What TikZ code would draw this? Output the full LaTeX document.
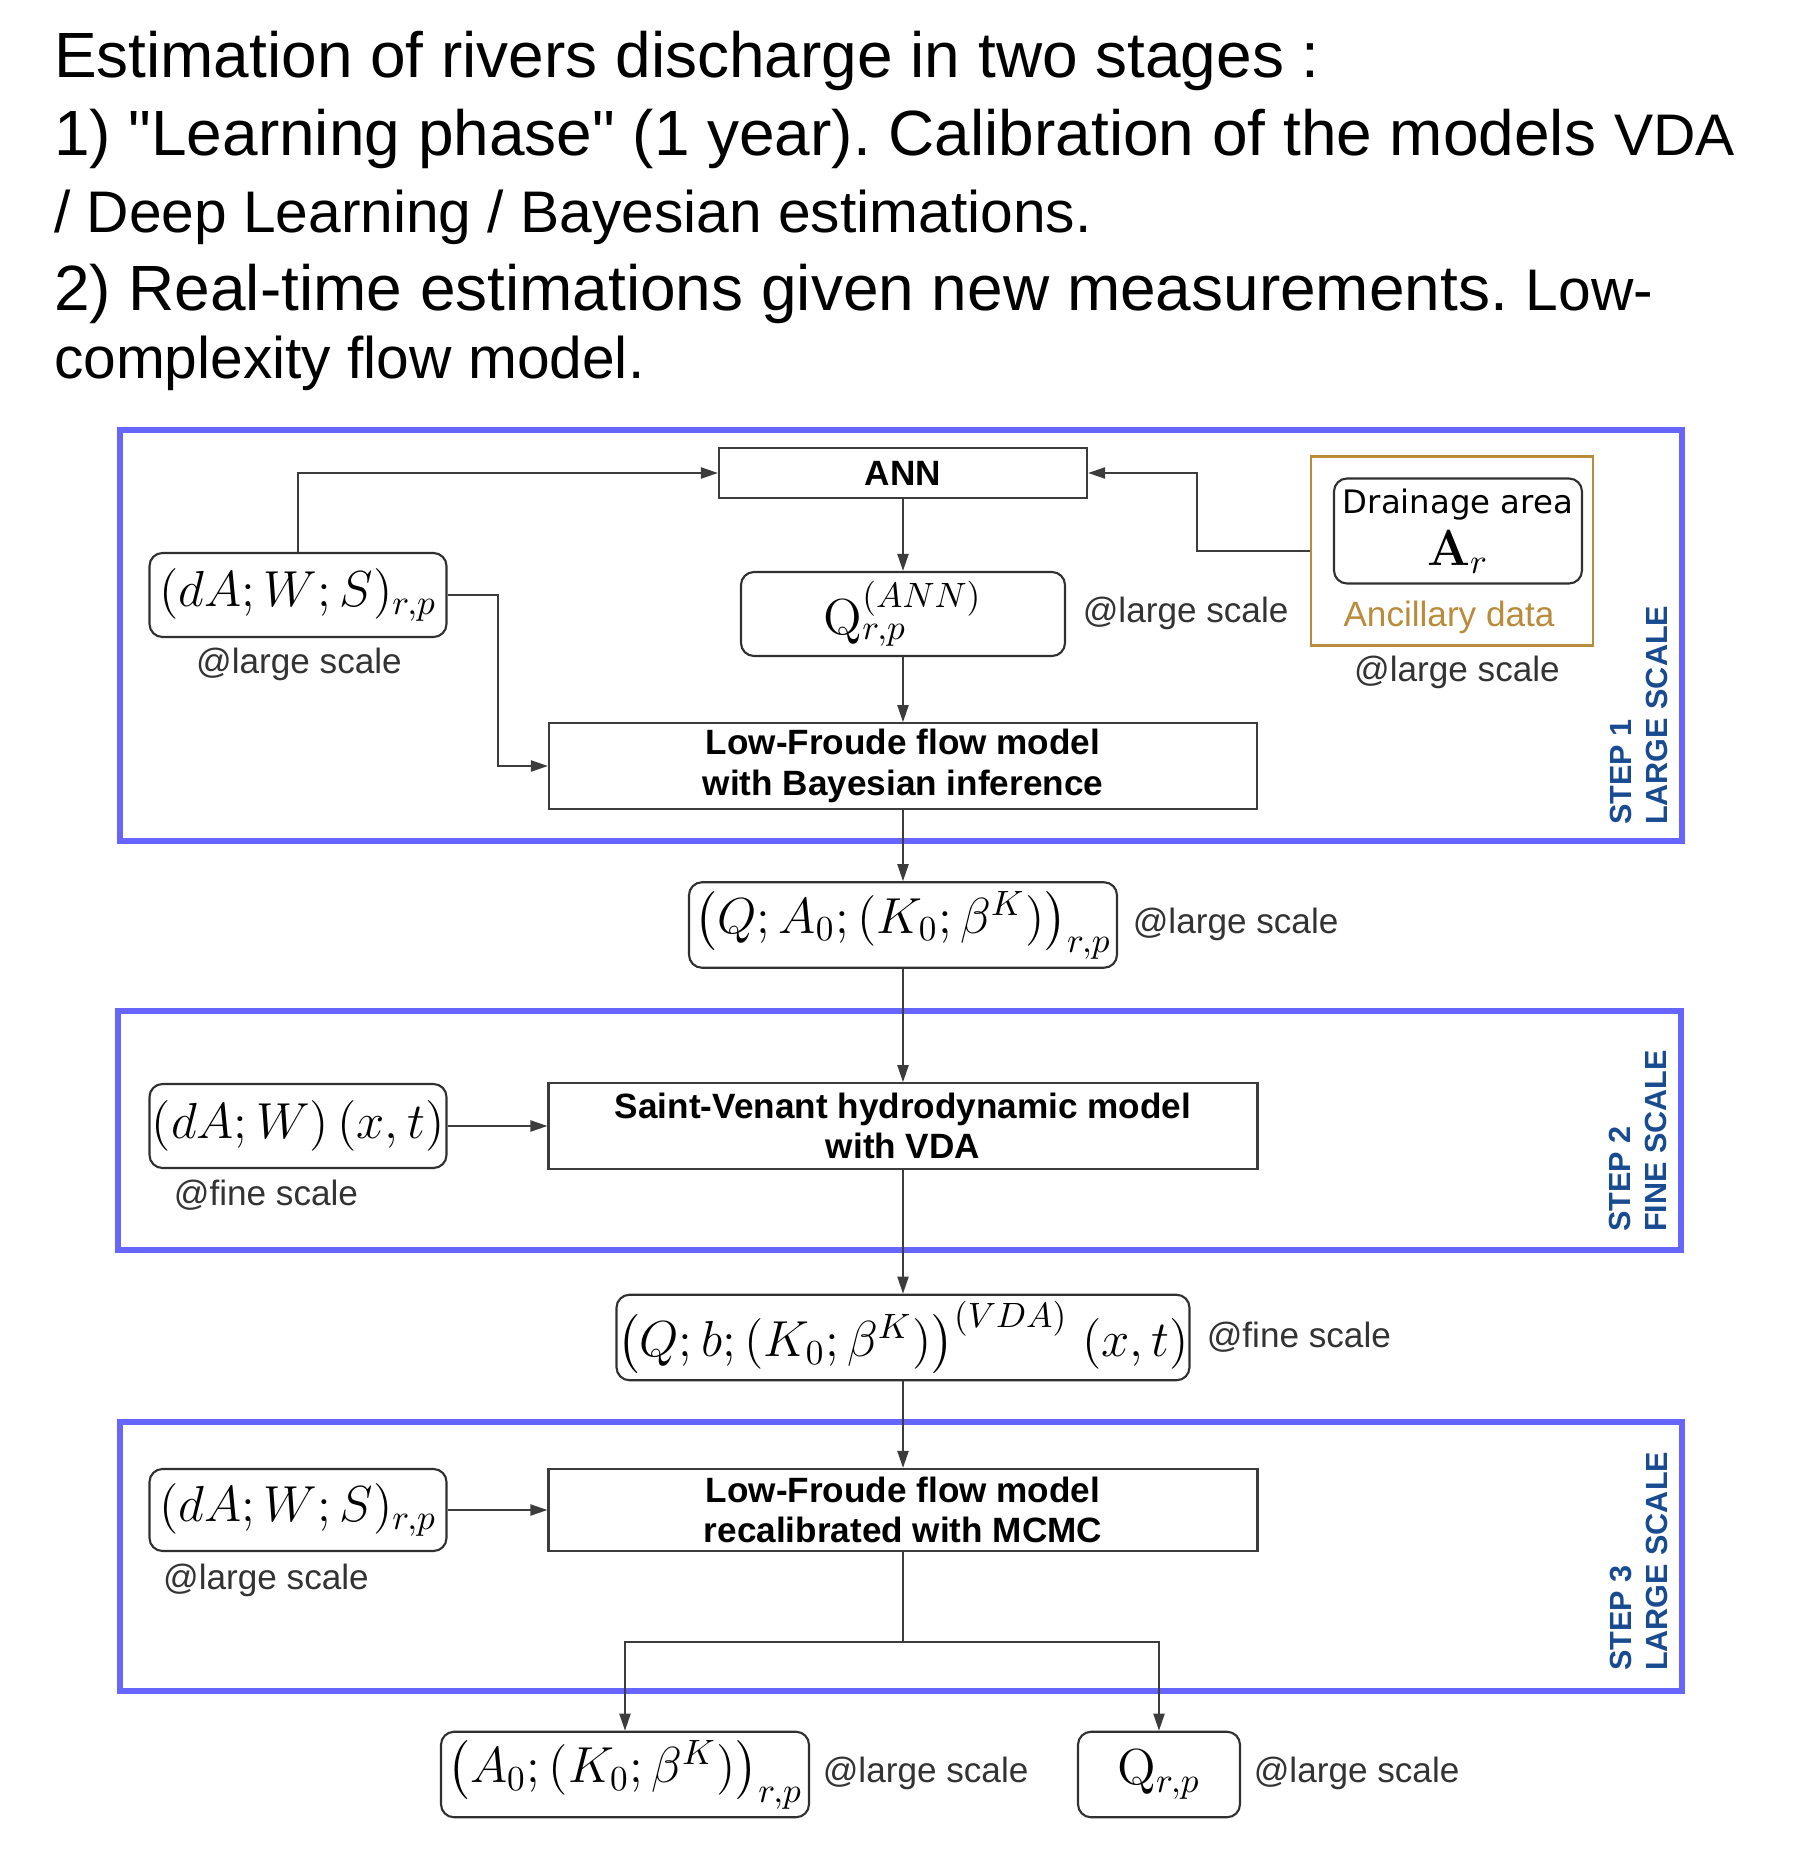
\documentclass[tikz,border=0pt]{standalone}
\usepackage{amsmath,amssymb}
\usepackage[no-math]{fontspec}
\setmainfont{Liberation Sans}
\newfontfamily\handfont{DejaVu Sans}
\usetikzlibrary{arrows.meta}
\frenchspacing

\definecolor{framebl}{RGB}{102,102,255}
\definecolor{stepbl}{RGB}{25,75,145}
\definecolor{ancgold}{RGB}{185,140,60}
\definecolor{linegr}{RGB}{60,60,60}

\newcommand{\bigt}{\fontsize{18.2}{21.8}\selectfont}
\newcommand{\smallt}{\fontsize{16.7}{20}\selectfont}

\begin{document}
\begin{tikzpicture}[line width=0.6pt,
  box/.style={draw=linegr,inner sep=0pt,align=center,font=\fontsize{10}{11.5}\selectfont\bfseries},
  rbox/.style={draw=linegr!80!black,rounded corners=1.3mm,inner sep=0pt,align=center,font=\fontsize{14}{16}\selectfont},
  scl/.style={font=\fontsize{10}{12}\selectfont,text=black!80},
  frame/.style={draw=framebl,line width=1.7pt},
  steplbl/.style={rotate=90,anchor=south west,align=left,inner sep=0pt,text=stepbl,font=\fontsize{8.7}{10.2}\selectfont\bfseries},
  arr/.style={draw=linegr,-{Triangle[length=1.7mm,width=1.1mm]}},
  ln/.style={draw=linegr}]
  \useasboundingbox (0,0) rectangle (18.15,-18.62);

  % heading
  \node[anchor=base west,inner sep=0pt,font=\bigt] (title1) at (0.53,-0.78) {Estimation of rivers discharge in two stages :};
  \node[anchor=base west,inner sep=0pt,font=\bigt] (title2) at (0.53,-1.56) {1) \textquotedbl Learning phase\textquotedbl{} (1 year). Calibration of the models {\smallt VDA}};
  \node[anchor=base west,inner sep=0pt,font=\smallt] (title3) at (0.53,-2.32) {/ Deep Learning / Bayesian estimations.};
  \node[anchor=base west,inner sep=0pt,font=\bigt] (title4) at (0.53,-3.10) {2) Real-time estimations given new measurements. {\smallt Low-}};
  \node[anchor=base west,inner sep=0pt,font=\smallt] (title5) at (0.53,-3.78) {complexity flow model.};

  % step frames
  \draw[frame] (1.20,-4.30) rectangle (16.82,-8.41);
  \draw[frame] (1.18,-10.11) rectangle (16.81,-12.50);
  \draw[frame] (1.20,-14.22) rectangle (16.82,-16.91);
  \node[steplbl] (step1) at (16.69,-8.26) {STEP 1\\LARGE SCALE};
  \node[steplbl] (step2) at (16.68,-12.33) {STEP 2\\FINE SCALE};
  \node[steplbl] (step3) at (16.69,-16.72) {STEP 3\\LARGE SCALE};

  % step 1
  \node[box,minimum width=3.68cm,minimum height=0.50cm] (ann) at (9.03,-4.73) {ANN};
  \node[rbox,minimum width=2.97cm,minimum height=0.84cm] (inp1) at (2.98,-5.95) {$(dA;W;S)_{r,p}$};
  \node[scl] (inp1s) at (2.99,-6.64) {@large scale};
  \node[rbox,minimum width=3.24cm,minimum height=0.84cm] (qann) at (9.03,-6.14) {$\mathrm{Q}^{(ANN)}_{r,p}$};
  \node[scl,anchor=west] (qanns) at (10.70,-6.13) {@large scale};
  \node[draw=ancgold,minimum width=2.82cm,minimum height=1.89cm,inner sep=0pt] (anc) at (14.52,-5.51) {};
  \node[rbox,minimum width=2.48cm,minimum height=1.05cm] (drain) at (14.58,-5.31) {{\handfont\fontsize{9.2}{12}\selectfont Drainage area}\\[-1pt]$\mathbf{A}_r$};
  \node[text=ancgold,font=\fontsize{10}{12}\selectfont] (ancl) at (14.49,-6.17) {Ancillary data};
  \node[scl] (ancs) at (14.57,-6.72) {@large scale};
  \node[box,minimum width=7.08cm,minimum height=0.855cm] (lf1) at (9.03,-7.66) {Low-Froude flow model\\with Bayesian inference};

  \draw[arr] (inp1.north) |- (ann.west);
  \draw[arr] (anc.west) -- ++(-1.13,0) |- (ann.east);
  \draw[arr] (ann) -- (qann);
  \draw[arr] (qann) -- (lf1);
  \draw[arr] (inp1.east) -- ++(0.5,0) |- (lf1.west);

  % large scale parameters
  \node[rbox,minimum width=4.28cm,minimum height=0.855cm] (res1) at (9.03,-9.25) {$\bigl(Q;A_0;(K_0;\beta^K)\bigr)_{r,p}$};
  \node[scl,anchor=west] (res1s) at (11.20,-9.24) {@large scale};
  \draw[arr] (lf1) -- (res1);

  % step 2
  \node[rbox,minimum width=2.97cm,minimum height=0.84cm] (inp2) at (2.98,-11.26) {$(dA;W)\,(x,t)$};
  \node[scl] (inp2s) at (2.66,-11.95) {@fine scale};
  \node[box,minimum width=7.09cm,minimum height=0.855cm] (sv) at (9.03,-11.26) {Saint-Venant hydrodynamic model\\with VDA};
  \draw[arr] (res1) -- (sv);
  \draw[arr] (inp2) -- (sv);

  % fine scale parameters
  \node[rbox,minimum width=5.73cm,minimum height=0.855cm] (vda) at (9.03,-13.375) {$\bigl(Q;b;(K_0;\beta^K)\bigr)^{(VDA)}\;(x,t)$};
  \node[scl,anchor=west] (vdas) at (11.94,-13.375) {@fine scale};
  \draw[arr] (sv) -- (vda);

  % step 3
  \node[rbox,minimum width=2.97cm,minimum height=0.82cm] (inp3) at (2.98,-15.10) {$(dA;W;S)_{r,p}$};
  \node[scl] (inp3s) at (2.66,-15.80) {@large scale};
  \node[box,minimum width=7.09cm,minimum height=0.82cm] (lf2) at (9.03,-15.10) {Low-Froude flow model\\recalibrated with MCMC};
  \draw[arr] (vda) -- (lf2);
  \draw[arr] (inp3) -- (lf2);

  % outputs
  \node[rbox,minimum width=3.68cm,minimum height=0.855cm] (outa) at (6.25,-17.745) {$\bigl(A_0;(K_0;\beta^K)\bigr)_{r,p}$};
  \node[scl,anchor=west] (outas) at (8.10,-17.73) {@large scale};
  \node[rbox,minimum width=1.62cm,minimum height=0.855cm] (outq) at (11.59,-17.745) {$\mathrm{Q}_{r,p}$};
  \node[scl,anchor=west] (outqs) at (12.41,-17.73) {@large scale};
  \draw[ln] (lf2.south) -- ++(0,-0.90) coordinate (split);
  \draw[arr] (split) -| (outa);
  \draw[arr] (split) -| (outq);
\end{tikzpicture}
\end{document}
